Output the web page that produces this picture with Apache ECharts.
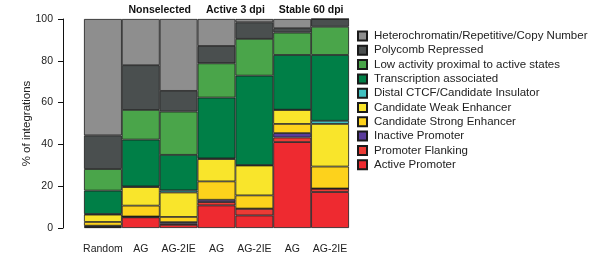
<!DOCTYPE html>
<html>
<head>
<meta charset="utf-8">
<script src="https://cdn.jsdelivr.net/npm/echarts@6/dist/echarts.min.js"></script>
<style>
  html, body { margin: 0; padding: 0; background: #fff; }
  #chart { width: 608px; height: 256px; }
</style>
</head>
<body>
<div id="chart"></div>
<script>
// samples (x axis)
const categories = ['Random', 'AG', 'AG-2IE', 'AG', 'AG-2IE', 'AG', 'AG-2IE']
// groups over pairs of bars: [label, first index, last index]
const groups = [['Nonselected', 1, 2], ['Active 3 dpi', 3, 4], ['Stable 60 dpi', 5, 6]]
const yTicks = [0, 20, 40, 60, 80, 100]

// chromatin states, bottom of the stack first
const activePromoter = [0.4, 5.1, 1.5, 10.8, 6.0, 41.1, 17.2]
const promoterFlanking = [0.4, 0.3, 0.6, 1.6, 3.2, 2.2, 1.6]
const inactivePromoter = [0.3, 0.1, 0.7, 1.1, 0.1, 2.1, 0.1]
const strongEnhancer = [1.8, 5.2, 2.5, 8.8, 6.3, 4.4, 10.5]
const weakEnhancer = [3.5, 8.9, 11.7, 10.7, 14.3, 6.7, 20.4]
const distalCTCF = [0.3, 0.3, 1.0, 0.3, 0.2, 0.1, 1.5]
const transcription = [11.2, 22.4, 17.0, 29.1, 42.8, 26.2, 31.5]
const lowActivity = [10.3, 14.2, 20.7, 16.4, 17.6, 10.7, 13.5]
const polycomb = [16.1, 21.4, 9.9, 8.3, 7.9, 2.1, 3.7]
const heterochromatin = [55.7, 22.1, 34.4, 12.9, 1.6, 4.4, 0]

const states = [
  { name: 'Active Promoter', data: activePromoter, color: '#ee2a30' },
  { name: 'Promoter Flanking', data: promoterFlanking, color: '#ec3b35' },
  { name: 'Inactive Promoter', data: inactivePromoter, color: '#5a3c9c' },
  { name: 'Candidate Strong Enhancer', data: strongEnhancer, color: '#fdd21c' },
  { name: 'Candidate Weak Enhancer', data: weakEnhancer, color: '#f9e52b' },
  { name: 'Distal CTCF/Candidate Insulator', data: distalCTCF, color: '#3fbfbf' },
  { name: 'Transcription associated', data: transcription, color: '#007f47' },
  { name: 'Low activity proximal to active states', data: lowActivity, color: '#4aa54a' },
  { name: 'Polycomb Repressed', data: polycomb, color: '#4a4f4f' },
  { name: 'Heterochromatin/Repetitive/Copy Number', data: heterochromatin, color: '#8e8e8e' }
]

const font = 'Liberation Sans, Arial, Helvetica, sans-serif'
const myChart = echarts.init(document.getElementById('chart'))

const option = {
  animation: false,
  textStyle: { fontFamily: font },
  grid: { left: 84, right: 259, top: 19, bottom: 28 },
  legend: {
    orient: 'vertical',
    left: 352,
    top: 25,
    icon: 'rect',
    itemWidth: 9,
    itemHeight: 9,
    itemGap: 2.3,
    data: states.map(s => s.name).reverse(),
    textStyle: { fontSize: 11.5, color: '#222', fontFamily: font, lineHeight: 12, padding: [0, 0, 0, 2] }
  },
  xAxis: {
    type: 'category',
    data: categories,
    axisLine: { show: false },
    axisTick: { show: false },
    axisLabel: { color: '#222', fontSize: 10.5, margin: 16, interval: 0 }
  },
  yAxis: {
    type: 'value',
    min: 0,
    max: 100,
    interval: 20,
    offset: 21,
    name: '% of integrations',
    nameLocation: 'middle',
    nameGap: 30,
    nameMoveOverlap: false,
    nameTextStyle: { color: '#222', fontSize: 11.5 },
    axisLine: { show: true, lineStyle: { color: '#111', width: 1 } },
    axisTick: { show: true, length: 5, lineStyle: { color: '#111' } },
    axisLabel: {
      color: '#222',
      fontSize: 10.5,
      margin: 10,
      formatter: v => (yTicks.includes(v) ? String(v) : '')
    },
    splitLine: { show: false }
  },
  series: states.map(s => ({
    name: s.name,
    type: 'bar',
    stack: 'total',
    barWidth: '100%',
    data: s.data,
    itemStyle: { color: s.color, borderColor: '#1a1a1a', borderWidth: 0.8 }
  }))
}

myChart.setOption(option)

// group headings centred above each pair of bars
const topY = myChart.convertToPixel({ yAxisIndex: 0 }, 100)
myChart.setOption({
  graphic: groups.map(([label, a, b]) => ({
    type: 'text',
    x: (myChart.convertToPixel({ xAxisIndex: 0 }, a) + myChart.convertToPixel({ xAxisIndex: 0 }, b)) / 2,
    y: topY - 3,
    style: {
      text: label,
      fill: '#111',
      font: 'bold 10.5px ' + font,
      textAlign: 'center',
      textVerticalAlign: 'bottom'
    }
  }))
})
</script>
</body>
</html>
